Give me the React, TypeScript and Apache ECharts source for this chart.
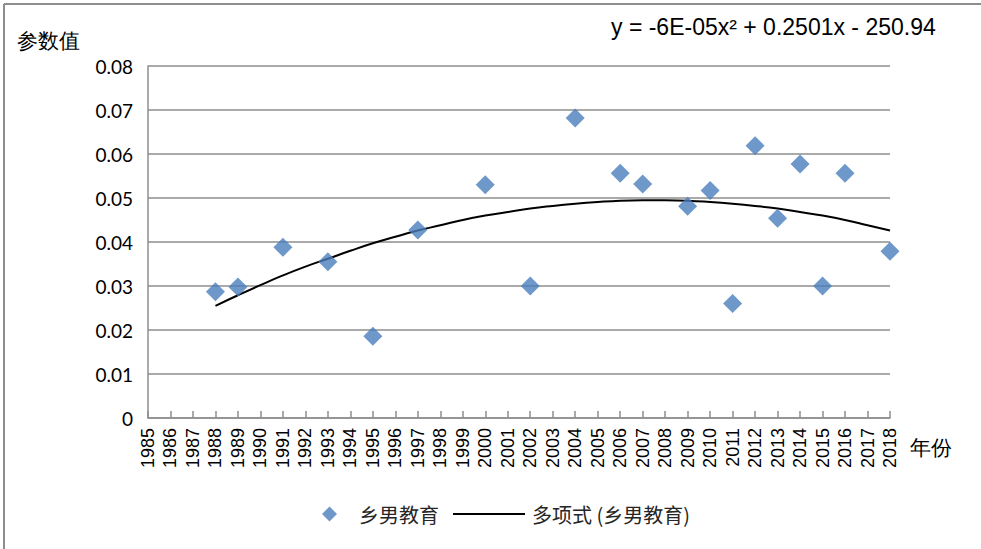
import React, { useEffect, useRef } from "react";
import * as echarts from "echarts";

const years: string[] = [];
for (let y = 1985; y <= 2018; y++) years.push(String(y));

const pointYears = ["1988", "1989", "1991", "1993", "1995", "1997", "2000", "2002", "2004", "2006", "2007", "2009", "2010", "2011", "2012", "2013", "2014", "2015", "2016", "2018"];
const pointValues = [0.0287, 0.0298, 0.0388, 0.0355, 0.0186, 0.0427, 0.053, 0.030, 0.0682, 0.0556, 0.0532, 0.0481, 0.0517, 0.026, 0.0619, 0.0454, 0.0577, 0.030, 0.0556, 0.0379];

const trendYears = ["1988", "1989", "1990", "1991", "1992", "1993", "1994", "1995", "1996", "1997", "1998", "1999", "2000", "2001", "2002", "2003", "2004", "2005", "2006", "2007", "2008", "2009", "2010", "2011", "2012", "2013", "2014", "2015", "2016", "2017", "2018"];
const trendValues = [0.0255, 0.0279, 0.0302, 0.0324, 0.0344, 0.0362, 0.038, 0.0397, 0.0412, 0.0426, 0.0438, 0.045, 0.046, 0.0468, 0.0476, 0.0482, 0.0487, 0.0491, 0.0494, 0.0495, 0.0495, 0.0494, 0.0491, 0.0487, 0.0482, 0.0476, 0.0468, 0.046, 0.045, 0.0438, 0.0426];

const yTicks = [0, 0.01, 0.02, 0.03, 0.04, 0.05, 0.06, 0.07, 0.08];

const seriesName = "乡男教育";
const trendName = "多项式 (乡男教育)";
const equation = "y = -6E-05x² + 0.2501x - 250.94";

const CJK = '"Noto Sans CJK SC", "Noto Sans", sans-serif';
const LAT = 'Lato, "Noto Sans CJK SC", sans-serif';

export default function App() {
  const ref = useRef<HTMLDivElement>(null);
  useEffect(() => {
    if (!ref.current) return;
    const chart = echarts.init(ref.current, undefined, { renderer: "svg" });
    chart.setOption({
      animation: false,
      backgroundColor: "#ffffff",
      grid: { left: 148, right: 91, top: 66, bottom: 131, containLabel: false },
      xAxis: {
        type: "category",
        data: years,
        boundaryGap: false,
        axisLine: { lineStyle: { color: "#8e8e8e", width: 1.5 } },
        axisTick: { show: true, inside: true, length: 7, interval: 0, lineStyle: { color: "#8e8e8e", width: 1.5 } },
        axisLabel: {
          interval: 0,
          rotate: 90,
          margin: 10,
          color: "#000000",
          fontSize: 18,
          fontFamily: '"Liberation Sans", Arial, sans-serif',
        },
        splitLine: { show: false },
      },
      yAxis: {
        type: "value",
        min: 0,
        max: 0.08,
        interval: 0.01,
        axisLine: { show: true, lineStyle: { color: "#8e8e8e", width: 1.5 } },
        axisTick: { show: false },
        axisLabel: {
          margin: 15,
          color: "#000000",
          fontSize: 19,
          fontFamily: LAT,
          formatter: (v: number) => {
            const t = yTicks.find((k) => Math.abs(k - v) < 1e-9);
            const val = t === undefined ? v : t;
            return val === 0 ? "0" : val.toFixed(2);
          },
        },
        splitLine: { show: true, lineStyle: { color: "#8e8e8e", width: 1.5 } },
      },
      legend: [
        {
          data: [{ name: seriesName, icon: "diamond" }],
          left: 317,
          top: 499,
          itemWidth: 15,
          itemHeight: 15,
          textStyle: { fontSize: 20, color: "#262626", fontFamily: CJK, padding: [0, 0, 0, 17] },
        },
        {
          data: [{ name: trendName, icon: "rect" }],
          left: 448,
          top: 499,
          itemWidth: 72,
          itemHeight: 2,
          itemStyle: { color: "#000000" },
          textStyle: { fontSize: 20, color: "#262626", fontFamily: CJK, padding: [0, 0, 0, 2] },
        },
      ],
      series: [
        {
          name: seriesName,
          type: "scatter",
          symbol: "diamond",
          symbolSize: 19,
          itemStyle: { color: "#4A7EBB" },
          data: pointYears.map((y, i) => [y, pointValues[i]]),
          z: 3,
        },
        {
          name: trendName,
          type: "line",
          smooth: true,
          showSymbol: false,
          symbol: "none",
          lineStyle: { color: "#000000", width: 2 },
          itemStyle: { color: "#000000" },
          data: trendYears.map((y, i) => [y, trendValues[i]]),
          z: 2,
        },
      ],
      graphic: [
        { type: "line", shape: { x1: 4, y1: 4, x2: 981, y2: 4 }, style: { stroke: "#8e8e8e", lineWidth: 2 } },
        { type: "line", shape: { x1: 4, y1: 4, x2: 4, y2: 549 }, style: { stroke: "#8e8e8e", lineWidth: 2 } },
        {
          type: "text",
          left: 17,
          top: 30,
          style: { text: "参数值", fontSize: 21, fill: "#000000", font: '21px "Noto Sans CJK SC", sans-serif' },
        },
        {
          type: "text",
          left: 910,
          top: 437,
          style: { text: "年份", fontSize: 21, fill: "#000000", font: '21px "Noto Sans CJK SC", sans-serif' },
        },
        {
          type: "text",
          left: 611,
          top: 15,
          style: { text: equation, fontSize: 23, fill: "#000000", font: '23px Lato, sans-serif' },
        },
      ],
    });
    return () => chart.dispose();
  }, []);
  return <div ref={ref} style={{ position: "fixed", left: 0, top: 0, width: 981, height: 549 }} />;
}
